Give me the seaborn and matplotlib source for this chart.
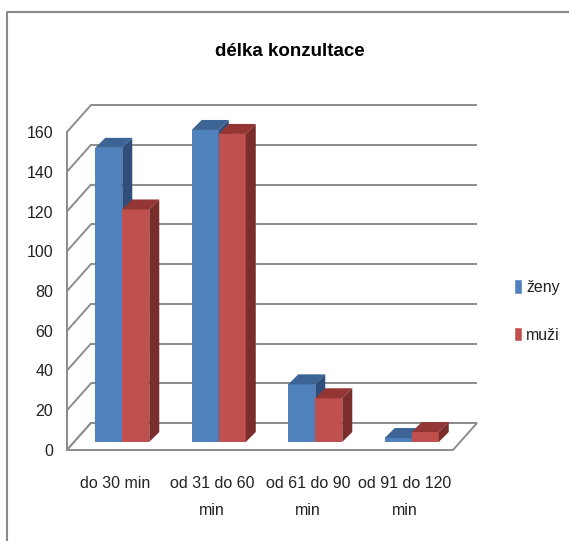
import pandas as pd
import matplotlib.pyplot as plt
import seaborn as sns
from matplotlib.patches import Polygon
from matplotlib.lines import Line2D
from matplotlib.transforms import IdentityTransform, offset_copy

# Data
categories = ['do 30 min', 'od 31 do 60\nmin', 'od 61 do 90\nmin', 'od 91 do 120\nmin']
zeny = [148, 157, 29, 2]
muzi = [117, 155, 22, 5]
series = ['ženy', 'muži']
yticks = list(range(0, 161, 20))

df = pd.DataFrame({
    'kategorie': categories * 2,
    'pocet': zeny + muzi,
    'pohlavi': [series[0]] * len(zeny) + [series[1]] * len(muzi),
})

front_colors = ['#4F81BD', '#C0504D']
top_colors = ['#3C6494', '#943634']
side_colors = ['#2F4F7A', '#7A2E2C']
line_col = '#8C8C8C'
txt_col = '#222222'
fs = 11.5

sns.set_style('white')
plt.rcParams['font.family'] = ['Liberation Sans', 'DejaVu Sans']

W, H = 569, 541
fig = plt.figure(figsize=(W / 100, H / 100), dpi=100)
# front plane of the 3D box: x 67..453 px, y 450..132 px (from top)
ax = fig.add_axes([67 / W, (H - 450) / H, 386 / W, 318 / H])

sns.barplot(data=df, x='kategorie', y='pocet', hue='pohlavi', palette=front_colors,
            width=0.56, saturation=1, errorbar=None, ax=ax)
handles, labels = ax.get_legend_handles_labels()
ax.get_legend().remove()

ax.set_xlim(-0.5, len(categories) - 0.5)
ax.set_ylim(0, 160)
ax.set_yticks(yticks)
ax.set_xlabel('')
ax.set_ylabel('')
for s in ax.spines.values():
    s.set_visible(False)
ax.tick_params(axis='y', length=0, pad=10, labelsize=fs, labelcolor=txt_col)
ax.tick_params(axis='x', length=0, pad=19, labelsize=fs, labelcolor=txt_col)
for lbl in ax.get_xticklabels():
    lbl.set_linespacing(2.0)
    lbl.set_verticalalignment('top')

# 3D box: depth offset in pixels
DX, DY = 24, 27
to_px = ax.transData.transform
back = offset_copy(ax.transData, fig, x=DX, y=DY, units='dots')
x_lo, x_hi = ax.get_xlim()

# back wall grid lines
ax.hlines(yticks, x_lo, x_hi, transform=back, colors=line_col, lw=1.4, clip_on=False, zorder=0)
# left wall
for v in yticks:
    fx, fy = to_px((x_lo, v))
    ax.add_artist(Line2D([fx, fx + DX], [fy, fy + DY], transform=IdentityTransform(),
                         color=line_col, lw=1.4, zorder=0, clip_on=False))
fx0, fy0 = to_px((x_lo, 0))
fx1, fy1 = to_px((x_lo, 160))
ax.add_artist(Line2D([fx0, fx1], [fy0, fy1], transform=IdentityTransform(),
                     color=line_col, lw=1.4, zorder=0, clip_on=False))
# floor
rx, ry = to_px((x_hi, 0))
ax.add_patch(Polygon([(fx0, fy0), (rx, ry), (rx + DX, ry + DY), (fx0 + DX, fy0 + DY)],
                     closed=True, transform=IdentityTransform(), facecolor='white',
                     edgecolor=line_col, lw=1.4, zorder=0.5, clip_on=False))

# bars: shift into the box and add top / side faces
BX, BY = 7, 8
BD = 10
bar_tr = offset_copy(ax.transData, fig, x=BX, y=BY, units='dots')
for k, cont in enumerate(ax.containers):
    for p in cont.patches:
        p.set_transform(bar_tr)
        p.set_zorder(2 + k)
        p.set_edgecolor('none')
        p.set_clip_on(False)
        b = p.get_bbox()
        (x0, y0), (x1, y1) = bar_tr.transform([(b.x0, b.y0), (b.x1, b.y1)])
        top = [(x0, y1), (x1, y1), (x1 + BD, y1 + BD), (x0 + BD, y1 + BD)]
        side = [(x1, y0), (x1, y1), (x1 + BD, y1 + BD), (x1 + BD, y0 + BD)]
        ax.add_patch(Polygon(top, closed=True, transform=IdentityTransform(),
                             facecolor=top_colors[k], edgecolor='none', zorder=2 + k,
                             clip_on=False))
        ax.add_patch(Polygon(side, closed=True, transform=IdentityTransform(),
                             facecolor=side_colors[k], edgecolor='none', zorder=2 + k,
                             clip_on=False))

fig.text(0.51, 1 - 51 / H, 'délka konzultace', ha='center', va='center',
         fontsize=13.5, fontweight='bold', color='black')

fig.legend(handles, labels, loc='center left', bbox_to_anchor=(500 / W, 1 - 311 / H),
           frameon=False, fontsize=fs, handlelength=0.45, handleheight=1.0,
           handletextpad=0.3, labelspacing=2.0, labelcolor=txt_col)

# chart border (left and top only visible)
fig.add_artist(Line2D([7 / W, 7 / W, 1], [0, 1 - 12 / H, 1 - 12 / H],
                      transform=fig.transFigure, color='#8A8A8A', lw=1.5))

plt.savefig('out.png', dpi=100)
